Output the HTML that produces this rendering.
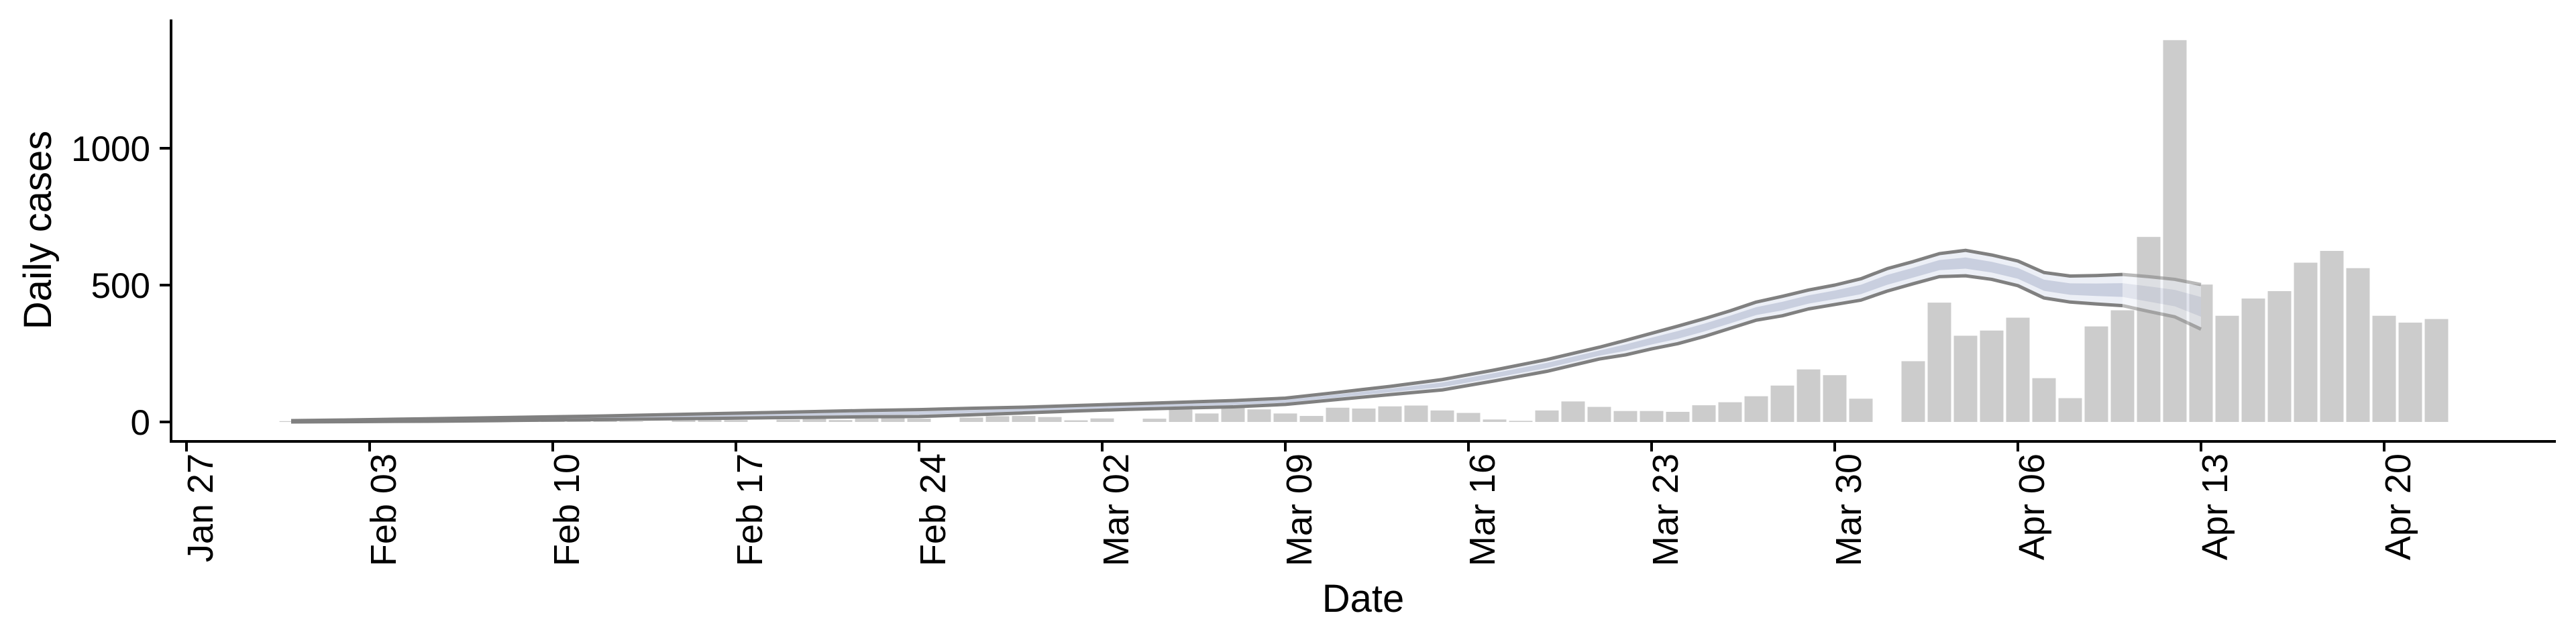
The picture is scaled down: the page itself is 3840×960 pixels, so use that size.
<!DOCTYPE html>
<html><head><meta charset="utf-8"><style>
html,body{margin:0;padding:0;background:#fff;}
svg{display:block;font-family:"Liberation Sans",sans-serif;}
</style></head><body>
<svg id="chart" width="3840" height="960" viewBox="0 0 3840 960" xmlns="http://www.w3.org/2000/svg">
<g id="bars"></g>
<g id="ribbon"></g>
<g id="axes"></g>
</svg>
<script>
// day index 0 = Jan 27
const barDays = [];
for (let d = 4; d <= 86; d++) barDays.push(d);
const barValues = [
 3,2,3,2,3,4,2,3,4,3,3,4,5,2,0,6,15,7,0,8,18,7,13,26,12,0,
 16,21,22,18,6,13,0,12,46,31,55,46,31,22,52,49,57,60,42,33,9,4,42,75,55,40,40,37,61,72,
 94,133,192,171,85,0,222,436,315,334,381,160,87,349,408,676,1395,502,388,451,478,582,625,562,388,363,376
];
const ribbonDays = [4,6,8,10,12,14,16,18,20,22,24,26,28,30,32,34,36,38,40,42,44,46,48,50,52,54,55,56,57,58,59,60,61,62,63,64,65,66,67,68,69,70,71,72,73,74,75,76,77];
const upperValues = [5,7,10,13,16,19,22,26,30,34,38,42,45,50,54,60,66,72,78,87,108,130,155,190,228,273,298,324,350,377,406,438,459,482,500,523,560,586,615,627,610,588,546,533,535,539,531,521,502];
const lowerValues = [0,1,2,3,5,7,9,11,13,15,17,19,20,26,33,40,46,51,55,64,82,100,117,150,185,230,245,267,286,312,342,372,388,413,429,445,478,505,531,534,521,498,453,438,431,425,404,384,339];
const yTicks = [0,500,1000];
const xTickDays = [0,7,14,21,28,35,42,49,56,63,70,77,84];
const xTickLabels = ["Jan 27","Feb 03","Feb 10","Feb 17","Feb 24","Mar 02","Mar 09","Mar 16","Mar 23","Mar 30","Apr 06","Apr 13","Apr 20"];

const NS = "http://www.w3.org/2000/svg";
const X0 = 278, DAY = 39.0, Y0 = 629, PER = 0.408;
const xs = d => X0 + d * DAY;
const ys = v => Y0 - v * PER;
function mk(tag, attrs, parent){ const e=document.createElementNS(NS,tag); for(const k in attrs) e.setAttribute(k,attrs[k]); parent.appendChild(e); return e; }

const barsG = document.getElementById('bars');
barDays.forEach((d,i)=>{
  const v = barValues[i]; if (!v) return;
  const r = mk('rect',{x:xs(d)-17.5,y:ys(v),width:35,height:Y0-ys(v),fill:'#cccccc'},barsG);
  
  
});

const rib = document.getElementById('ribbon');
function band(idx, opacity){
  const g = mk('g',{opacity:opacity},rib);
  
  
  const up = idx.map(i=>[xs(ribbonDays[i]),ys(upperValues[i])]);
  const lo = idx.map(i=>[xs(ribbonDays[i]),ys(lowerValues[i])]);
  const mid = idx.map(i=>(upperValues[i]+lowerValues[i])/2);
  const half = idx.map(i=>(upperValues[i]-lowerValues[i])*0.22);
  const outer = up.map(p=>p.join(',')).join(' ')+' '+lo.slice().reverse().map(p=>p.join(',')).join(' ');
  const o = mk('polygon',{points:outer,fill:'#eceff6'},g);
  
  
  const iu = idx.map((i,k)=>xs(ribbonDays[i])+','+ys(mid[k]+half[k]));
  const il = idx.map((i,k)=>xs(ribbonDays[i])+','+ys(mid[k]-half[k]));
  const inn = mk('polygon',{points:iu.join(' ')+' '+il.reverse().join(' '),fill:'#c9cfdf'},g);
  
  
  const lu = mk('polyline',{points:up.map(p=>p.join(',')).join(' '),fill:'none',stroke:'#808080','stroke-width':5,'stroke-linejoin':'round'},g);
  
  
  const ll = mk('polyline',{points:lo.map(p=>p.join(',')).join(' '),fill:'none',stroke:'#808080','stroke-width':5,'stroke-linejoin':'round'},g);
  
  
}
const cut = ribbonDays.indexOf(74);
band([...Array(cut+1).keys()],1);
band([...Array(ribbonDays.length-cut).keys()].map(k=>k+cut),0.55);

const ax = document.getElementById('axes');
let e;
e = mk('line',{x1:255,y1:29,x2:255,y2:660,stroke:'#000','stroke-width':4},ax);
 
e = mk('line',{x1:253,y1:658,x2:3810,y2:658,stroke:'#000','stroke-width':4},ax);
 
yTicks.forEach(v=>{
  const t = mk('line',{x1:238,y1:ys(v),x2:255,y2:ys(v),stroke:'#000','stroke-width':4},ax);
   
  const l = mk('text',{x:224,y:ys(v)+19,'text-anchor':'end','font-size':53,fill:'#000'},ax);
  l.textContent = v;
   
});
xTickDays.forEach((d,i)=>{
  const x = xs(d);
  const t = mk('line',{x1:x,y1:658,x2:x,y2:673,stroke:'#000','stroke-width':4},ax);
   
  const l = mk('text',{x:0,y:0,'text-anchor':'end','font-size':54,fill:'#000',transform:`translate(${x+39},676) rotate(-90)`},ax);
  l.textContent = xTickLabels[i];
   
});
e = mk('text',{x:2032,y:912,'text-anchor':'middle','font-size':58,fill:'#000'},ax);
e.textContent='Date';
 
e = mk('text',{x:0,y:0,'text-anchor':'middle','font-size':58,fill:'#000',transform:'translate(76,343) rotate(-90)'},ax);
e.textContent='Daily cases';
 
</script>
</body></html>
